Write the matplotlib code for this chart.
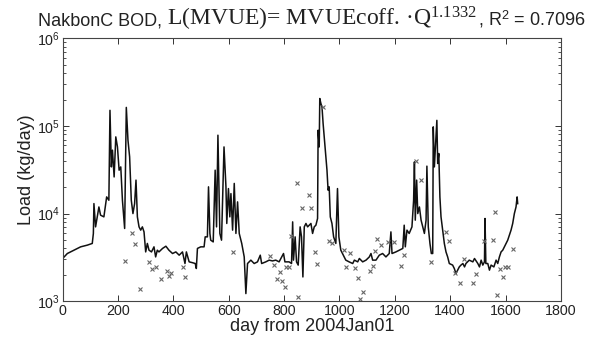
import numpy as np
import matplotlib
matplotlib.use("Agg")
import matplotlib.pyplot as plt
from matplotlib.offsetbox import TextArea, HPacker, AnchoredOffsetbox
from matplotlib.ticker import LogLocator, NullFormatter

plt.rcParams['font.family'] = ['Liberation Sans', 'DejaVu Sans']
plt.rcParams['mathtext.fontset'] = 'custom'
plt.rcParams['mathtext.rm'] = 'Liberation Serif'
plt.rcParams['mathtext.it'] = 'Liberation Serif:italic'
plt.rcParams['mathtext.bf'] = 'Liberation Serif:bold'
plt.rcParams['mathtext.sf'] = 'Liberation Sans'

# rating-curve load estimate, MVUE
line_day = [0, 17, 41, 65, 89, 107, 111, 113, 119, 131, 137, 149, 159, 167, 171, 176, 180,
            186, 192, 198, 204, 210, 216, 224, 230, 236, 242, 248, 254, 260, 265, 270, 276,
            282, 288, 294, 300, 306, 312, 321, 330, 336, 342,
            348, 361, 373, 384, 397, 409, 421, 433, 442, 447, 457, 469, 479, 483, 487, 499,
            511, 515, 523, 527, 532, 535, 544, 551, 556, 561, 568, 574, 583, 590, 593, 599,
            604, 608, 614, 620, 626, 632, 638, 647, 656, 662, 668, 680,
            692, 704, 714, 719, 734, 746, 758, 770, 782, 798, 803, 818, 827, 831, 834, 840,
            845, 851, 858, 863, 868, 873, 879, 885, 897, 903, 909, 915, 921, 923, 927, 929,
            933, 937, 941, 948, 955, 959, 963, 967, 973, 979, 987, 993, 998, 1005, 1017,
            1023, 1035, 1048, 1054, 1066, 1072, 1084, 1096, 1108, 1114, 1120, 1132, 1144,
            1156, 1168, 1180, 1186, 1190, 1204, 1216, 1229, 1234, 1238, 1244, 1252, 1262,
            1268, 1271, 1274, 1279, 1283, 1289, 1295, 1301, 1307, 1313, 1316, 1321, 1327,
            1332, 1337, 1339, 1343, 1347, 1352, 1355, 1359, 1363, 1367,
            1373, 1379, 1385, 1391, 1397, 1409, 1415, 1421, 1427, 1433, 1439, 1446, 1452,
            1457, 1469, 1482, 1488, 1500, 1506, 1512, 1518, 1524, 1526, 1529, 1536, 1542,
            1548, 1558, 1566, 1572, 1578, 1584, 1590, 1596, 1602, 1608, 1614, 1620, 1626,
            1632, 1638, 1642, 1644]
line_load = [3070, 3500, 3820, 4170, 4360, 4560, 5930, 13000, 7050, 11900, 9590, 9170, 15500,
             14200, 151000, 34100, 53000, 26200, 75100, 57700, 31300, 34100, 14200, 6760,
             163000, 68900, 44400, 14200, 10000, 13000, 24100, 9170, 7050, 6470, 7050, 6180,
             3650, 4560, 3820, 3650, 4170, 3200, 3820,
             3650, 4000, 4240, 3820, 3500, 3650, 3350, 3650, 2690, 3650, 2810, 2750, 2690,
             2360, 4000, 4170, 4170, 5420, 5420, 20200, 5930, 4970, 4750, 31300, 7050, 78500,
             5930, 4970, 57700, 20200, 7710, 19300, 9170, 16900, 6470, 22100, 5930, 13600,
             5930, 4560, 3200, 1220, 2690, 2940,
             2690, 2810, 3350, 2690, 2810, 2940, 2880, 2940, 2810, 3500, 2810, 2810, 2690,
             8040, 2940, 5420, 2810, 2580, 7050, 5420, 1890, 7050, 7710, 7050, 7710, 5930,
             7050, 7370, 8790, 89500, 57700, 206000, 181000, 165000, 107000, 57700, 31300,
             18500, 20200, 9170, 7710, 5420, 4560, 19300, 5420, 3820, 3200,
             2940, 2810, 2690, 2940, 2810, 3070, 2810, 2940, 3200, 3500, 2940, 2940, 3350,
             3500, 3200, 3500, 6180, 3500, 3650, 3820, 4000, 7370, 4170, 6470, 5930, 7050,
             14200, 38900, 8410, 24100, 10000, 11900, 8410, 7050, 5930, 8410, 34800, 7050,
             4560, 3500, 3500, 97700, 34100, 57700, 116000, 37300, 48500, 15500, 9170,
             6470, 4560, 3650, 3200, 2690, 2580, 2360, 2070, 2260, 2460, 2580, 2690, 2460,
             2690, 2940, 2810, 3070, 2690, 2460, 2940, 2580, 2810, 8790, 2690, 2690, 2260,
             2580, 2460, 2940, 2690, 3200, 3650, 3820, 4170, 4560, 4970, 5670, 6470, 7710,
             10000, 11900, 15500, 13000]

# sampled loads
obs_day = [226, 250, 261, 280, 313, 322, 339, 354, 378, 384, 393, 435, 442, 615,
           750, 764, 773, 784, 794, 802, 806, 818, 826, 847, 849, 865, 889, 899, 912, 919,
           940, 961, 973, 1015, 1023, 1038, 1057, 1066, 1075, 1084, 1111, 1120, 1128, 1135,
           1150, 1174, 1198, 1223, 1232, 1278, 1296, 1332, 1385, 1396, 1418, 1437, 1451,
           1484, 1492, 1522, 1556, 1562, 1570, 1581, 1590, 1598, 1610, 1626]
obs_load = [2860, 6080, 4470, 1370, 2790, 2300, 2460, 1770, 2220, 1940, 2100, 2430, 1890, 3620,
            3260, 2580, 1770, 2160, 1710, 1460, 2430, 2430, 5520, 22600, 1120, 11600, 16500,
            11600, 3650, 2690, 165000, 4880, 4560, 3820, 2460, 3540, 2360, 1860, 1070, 1280,
            2220, 2510, 3750, 5100, 4360, 4750, 4680, 2530, 3350, 40000, 24100, 2810, 6200,
            4840, 2070, 1620, 2990, 1620, 2020, 4840, 4970, 10400, 1190, 2300, 1890, 2460,
            2460, 3920]

x_ticks = np.arange(0, 1801, 200)

fig = plt.figure(figsize=(5.91, 3.43), dpi=100)
ax = fig.add_axes([0.106, 0.122, 0.843, 0.766])

ax.plot(line_day, line_load, color='#111111', lw=1.1)
ax.plot(obs_day, obs_load, 'x', color='#666666', ms=3.3, mew=0.8)

ax.set_yscale('log')
ax.set_xlim(0, 1800)
ax.set_ylim(1e3, 1e6)
ax.set_xticks(x_ticks)
ax.yaxis.set_major_locator(LogLocator(base=10, numticks=10))
ax.yaxis.set_minor_locator(LogLocator(base=10, subs=np.arange(2, 10), numticks=10))
ax.yaxis.set_minor_formatter(NullFormatter())

ax.tick_params(which='both', direction='in', top=True, right=True, colors='#333333',
               labelcolor='#222222', labelsize=10.3, pad=2)
ax.tick_params(which='major', length=4, width=0.7)
ax.tick_params(which='minor', length=2.2, width=0.6)
for s in ax.spines.values():
    s.set_color('#444444')
    s.set_linewidth(0.8)

ax.set_xlabel('day from 2004Jan01', fontsize=13, labelpad=0, color='#222222')
ax.set_ylabel('Load (kg/day)', fontsize=13, labelpad=1, color='#222222')

# title with a serif equation in the middle
parts = [
    TextArea('NakbonC BOD, ', textprops=dict(fontsize=13, color='#222222')),
    TextArea('L(MVUE)= MVUEcoff. \u00b7Q$^{1.1332}$',
             textprops=dict(fontsize=17, family='Liberation Serif', color='#222222')),
    TextArea(', R$^{\\mathsf{2}}$ = 0.7096', textprops=dict(fontsize=13, color='#222222')),
]
title_box = HPacker(children=parts, align='baseline', pad=0, sep=0)
anchored = AnchoredOffsetbox(loc='lower center', child=title_box, pad=0, borderpad=0,
                             frameon=False, bbox_to_anchor=(0.5, 1.02),
                             bbox_transform=ax.transAxes)
ax.add_artist(anchored)

fig.savefig('out.png', dpi=100)
